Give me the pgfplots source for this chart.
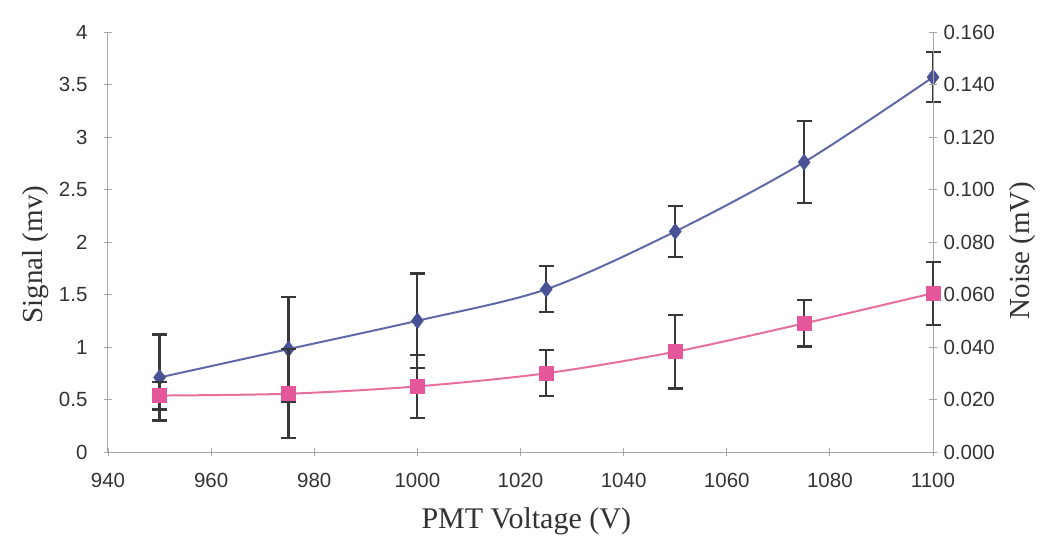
\documentclass[border=0pt]{standalone}
\usepackage{pgfplots}
\pgfplotsset{compat=1.18}
\usepackage{fontspec}
\setmainfont{Liberation Serif}
\newfontfamily\arialfont{Liberation Sans}
\definecolor{sigblue}{HTML}{6068A8}
\definecolor{sigmark}{HTML}{4A5296}
\definecolor{noisepink}{HTML}{E86EA0}
\definecolor{noisemark}{HTML}{E4579A}
\definecolor{errgray}{HTML}{383838}
\definecolor{axgray}{HTML}{A8A8A8}
\definecolor{ticktext}{HTML}{333333}
\pgfplotsset{
 common/.style={
  width=825pt, height=420pt, scale only axis,
  xmin=940, xmax=1100,
  axis line style={axgray, line width=1pt},
  tick style={axgray, line width=0.8pt},
  tick align=center, major tick length=8pt,
  tick label style={font=\arialfont\fontsize{20.5}{20.5}\selectfont, text=ticktext},
  /pgf/number format/assume math mode=true,
  /pgf/number format/1000 sep={},
  clip=false,
 }
}
\begin{document}
\begin{tikzpicture}
\path[use as bounding box] (-108pt,-87pt) rectangle (938pt,452pt);
\begin{axis}[common,
  axis x line*=bottom, axis y line*=left,
  ymin=0, ymax=4,
  ytick={0,0.5,1,1.5,2,2.5,3,3.5,4},
  yticklabels={0,0.5,1,1.5,2,2.5,3,3.5,4},
  xtick={940,960,980,1000,1020,1040,1060,1080,1100},
  xticklabel style={yshift=-14pt},
  yticklabel style={xshift=-13pt},
  every axis y label/.style={at={(axis description cs:-0.088,0.47)}, anchor=center, rotate=90, font=\fontsize{29}{30}\selectfont, text=ticktext},
  every axis x label/.style={at={(axis description cs:0.507,-0.165)}, anchor=center, font=\fontsize{30}{30}\selectfont, text=ticktext},
  ylabel={Signal (mv)},
  xlabel={PMT Voltage (V)},
]
\addplot[sigblue, line width=2pt, smooth, mark=diamond*, mark size=8pt,
  mark options={fill=sigmark, draw=sigmark, line width=0.5pt},
  error bars/.cd, y dir=both, y explicit,
  error bar style={errgray, line width=2.2pt},
  error mark options={errgray, line width=2.2pt, mark size=7.5pt, rotate=90}]
coordinates {
 (950,0.71) +- (0,0.41)
 (975,0.98) +- (0,0.50)
 (1000,1.25) +- (0,0.45)
 (1025,1.55) +- (0,0.22)
 (1050,2.10) +- (0,0.24)
 (1075,2.76) +- (0,0.39)
 (1100,3.57) +- (0,0.24)
};
\end{axis}
\begin{axis}[common,
  axis x line=none, axis y line*=right,
  ymin=0, ymax=0.16,
  ytick={0,0.02,0.04,0.06,0.08,0.1,0.12,0.14,0.16},
  scaled y ticks=false,
  yticklabel style={xshift=3pt, /pgf/number format/fixed, /pgf/number format/fixed zerofill, /pgf/number format/precision=3},
  every axis y label/.style={at={(axis description cs:1.108,0.48)}, anchor=center, rotate=90, font=\fontsize{29}{30}\selectfont, text=ticktext},
  ylabel={Noise (mV)},
]
\addplot[noisepink, line width=2pt, smooth, mark=square*, mark size=7pt,
  mark options={fill=noisemark, draw=noisemark, line width=0.5pt, rounded corners=2pt},
  error bars/.cd, y dir=both, y explicit,
  error bar style={errgray, line width=2.2pt},
  error mark options={errgray, line width=2.2pt, mark size=7.5pt, rotate=90}]
coordinates {
 (950,0.0215) +- (0,0.0053)
 (975,0.0222) +- (0,0.0170)
 (1000,0.0250) +- (0,0.0120)
 (1025,0.0300) +- (0,0.0088)
 (1050,0.0382) +- (0,0.0140)
 (1075,0.0490) +- (0,0.0088)
 (1100,0.0605) +- (0,0.0120)
};
\end{axis}
\end{tikzpicture}
\end{document}
